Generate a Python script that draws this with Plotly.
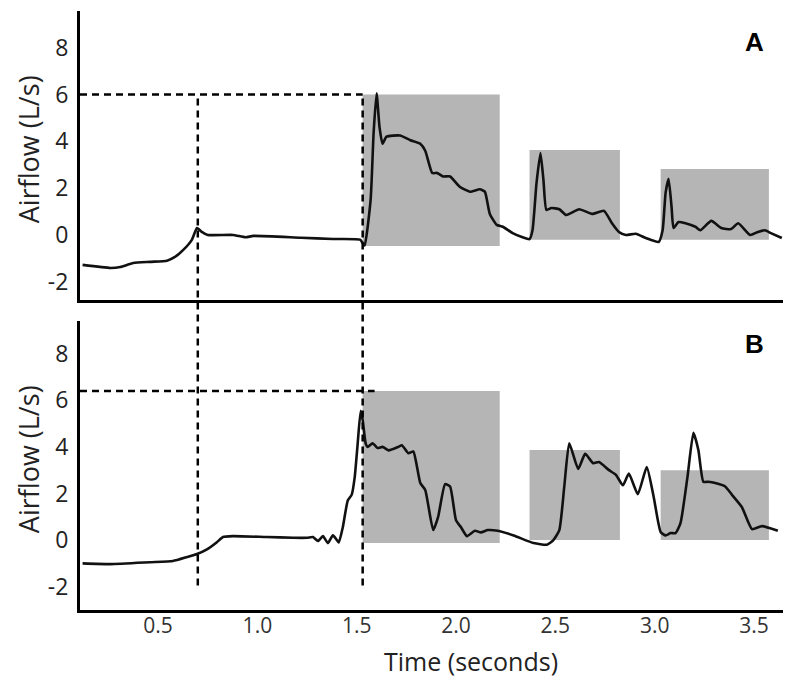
import plotly.graph_objects as go
from plotly.subplots import make_subplots

# panel A trace
tempo_a = [0.12, 0.26, 0.31, 0.375, 0.46, 0.545, 0.585, 0.627, 0.67, 0.696, 0.72, 0.75,
           0.877, 0.94, 0.98, 1.22, 1.38, 1.517, 1.53, 1.54, 1.57, 1.585, 1.60, 1.615,
           1.63, 1.65, 1.718, 1.77, 1.82, 1.845, 1.88, 1.905, 1.935, 1.97, 2.02, 2.07,
           2.12, 2.145, 2.17, 2.205, 2.235, 2.285, 2.335, 2.37, 2.385, 2.405, 2.425,
           2.44, 2.455, 2.48, 2.52, 2.555, 2.62, 2.685, 2.745, 2.785, 2.82, 2.855,
           2.905, 2.955, 3.02, 3.04, 3.055, 3.07, 3.085, 3.095, 3.12, 3.155, 3.205,
           3.23, 3.285, 3.335, 3.385, 3.42, 3.48, 3.52, 3.555, 3.585, 3.64]
fluxo_a = [-1.28, -1.41, -1.37, -1.2, -1.15, -1.1, -0.94, -0.64, -0.21, 0.3, 0.13, 0.0,
           0.0, -0.1, -0.04, -0.12, -0.17, -0.2, -0.35, -0.45, 1.5, 4.35, 6.05, 4.6,
           3.9, 4.2, 4.25, 4.05, 3.9, 3.6, 2.65, 2.65, 2.5, 2.5, 2.05, 1.85,
           1.95, 1.85, 0.9, 0.43, 0.35, 0.08, -0.1, -0.18, 0.2, 2.2, 3.5,
           2.35, 1.07, 1.15, 1.1, 0.85, 1.1, 0.9, 1.03, 0.5, 0.13, 0.0,
           0.05, -0.13, -0.3, 0.2, 1.8, 2.4, 1.2, 0.3, 0.55, 0.5, 0.35,
           0.2, 0.6, 0.3, 0.25, 0.5, 0.0, 0.13, 0.2, 0.08, -0.13]

# panel B trace
tempo_b = [0.12, 0.26, 0.46, 0.575, 0.646, 0.696, 0.746, 0.796, 0.827, 0.877, 1.048,
           1.18, 1.25, 1.28, 1.305, 1.33, 1.355, 1.38, 1.40, 1.41, 1.43, 1.455, 1.475,
           1.49, 1.505, 1.52, 1.53, 1.545, 1.555, 1.58, 1.605, 1.63, 1.66, 1.71, 1.727,
           1.76, 1.785, 1.82, 1.845, 1.885, 1.91, 1.945, 1.97, 2.0, 2.025, 2.055, 2.095,
           2.125, 2.16, 2.21, 2.29, 2.39, 2.457, 2.49, 2.52, 2.545, 2.57, 2.615, 2.65,
           2.69, 2.72, 2.77, 2.805, 2.84, 2.87, 2.915, 2.96, 2.995, 3.03, 3.055, 3.08,
           3.105, 3.13, 3.165, 3.195, 3.22, 3.245, 3.27, 3.305, 3.355, 3.39, 3.44, 3.49,
           3.54, 3.62]
fluxo_b = [-1.0, -1.03, -0.95, -0.9, -0.73, -0.6, -0.4, -0.09, 0.13, 0.17, 0.13,
           0.1, 0.1, 0.13, -0.04, 0.17, -0.13, 0.2, 0.0, -0.1, 0.55, 1.7, 1.95,
           2.7, 4.15, 5.55, 5.15, 4.15, 4.0, 4.15, 3.95, 4.0, 3.85, 4.0, 4.07,
           3.73, 3.8, 2.45, 2.15, 0.43, 1.0, 2.4, 2.3, 0.85, 0.55, 0.17, 0.4,
           0.33, 0.43, 0.4, 0.2, -0.13, -0.2, 0.0, 0.43, 2.3, 4.15, 3.05, 3.7,
           3.3, 3.35, 3.0, 2.8, 2.35, 2.85, 1.97, 3.13, 1.85, 0.35, 0.2, 0.3,
           0.3, 0.73, 2.7, 4.6, 3.86, 2.5, 2.5, 2.45, 2.3, 1.93, 1.4, 0.47,
           0.6, 0.4]

# caixas cinzas
caixa_x0 = [1.53, 2.37, 3.03]
caixa_x1 = [2.22, 2.825, 3.575]
caixa_topo_a = [6.0, 3.63, 2.82]
caixa_base_a = [-0.47, -0.2, -0.2]
caixa_topo_b = [6.4, 3.86, 3.0]
caixa_base_b = [-0.13, 0.0, 0.0]

# linhas tracejadas
marcas_x = [0.7, 1.53]
pico_a = 6.0
pico_b = 6.4
fim_pico_b = 1.59
base_tracejado = -1.95

ticks_y = [-2, 0, 2, 4, 6, 8]
rotulos_y = ["-2", "0", "2", "4", "6", "8"]
ticks_x = [0.5, 1.0, 1.5, 2.0, 2.5, 3.0, 3.5]
rotulos_x = ["0.5", "1.0", "1.5", "2.0", "2.5", "3.0", "3.5"]
faixa_x = [0.107, 3.646]
faixa_a = [-2.78, 9.57]
faixa_b = [-3.0, 9.4]
dom_a = [0.5175, 1.0]
dom_b = [0.0, 0.4825]

fig = make_subplots(rows=2, cols=1, shared_xaxes=True)

fig.add_trace(go.Scatter(x=tempo_a, y=fluxo_a, mode="lines",
                         line=dict(color="#111", width=2.6, shape="spline", smoothing=0.5)),
              row=1, col=1)
fig.add_trace(go.Scatter(x=tempo_b, y=fluxo_b, mode="lines",
                         line=dict(color="#111", width=2.6, shape="spline", smoothing=0.5)),
              row=2, col=1)

for i in range(3):
    fig.add_shape(type="rect", xref="x", yref="y", x0=caixa_x0[i], x1=caixa_x1[i],
                  y0=caixa_base_a[i], y1=caixa_topo_a[i], fillcolor="#b5b5b5",
                  line_width=0, layer="below")
    fig.add_shape(type="rect", xref="x2", yref="y2", x0=caixa_x0[i], x1=caixa_x1[i],
                  y0=caixa_base_b[i], y1=caixa_topo_b[i], fillcolor="#b5b5b5",
                  line_width=0, layer="below")

tracejado = dict(color="black", width=2.5, dash="7px,5px")


def paper_y(v, faixa, dom):
    return dom[0] + (v - faixa[0]) / (faixa[1] - faixa[0]) * (dom[1] - dom[0])


fig.add_shape(type="line", xref="x", yref="y", x0=faixa_x[0], x1=marcas_x[1],
              y0=pico_a, y1=pico_a, line=tracejado)
fig.add_shape(type="line", xref="x2", yref="y2", x0=faixa_x[0], x1=fim_pico_b,
              y0=pico_b, y1=pico_b, line=tracejado)
for mx in marcas_x:
    fig.add_shape(type="line", xref="x", yref="paper", x0=mx, x1=mx,
                  y0=paper_y(base_tracejado, faixa_b, dom_b),
                  y1=paper_y(pico_a, faixa_a, dom_a), line=tracejado)

fonte_tick = dict(family="Open Sans", size=23, color="#222")
for r, faixa, dom in [(1, faixa_a, dom_a), (2, faixa_b, dom_b)]:
    fig.update_yaxes(row=r, col=1, range=faixa, domain=dom, tickvals=ticks_y,
                     ticktext=rotulos_y,
                     showgrid=False, zeroline=False, showline=True, linewidth=3,
                     linecolor="black", ticks="", tickfont=fonte_tick,
                     ticklabelstandoff=4, automargin=False)
    fig.update_xaxes(row=r, col=1, range=faixa_x, tickvals=ticks_x, ticktext=rotulos_x,
                     showgrid=False, zeroline=False, showline=True, linewidth=3,
                     linecolor="black", ticks="", automargin=False,
                     tickfont=dict(family="Open Sans", size=21, color="#333"),
                     ticklabelstandoff=-5)

# titulos dos eixos
fonte_titulo = dict(family="Open Sans", size=27, color="#222")
for dom in [dom_a, dom_b]:
    fig.add_annotation(text="Airflow (L/s)", textangle=-90, x=-0.073,
                       y=(dom[0] + dom[1]) / 2 + 0.01, xref="paper", yref="paper",
                       xanchor="center", yanchor="middle",
                       showarrow=False, font=fonte_titulo)
fig.add_annotation(text="Time (seconds)", x=0.556, y=-0.085, xref="paper", yref="paper",
                   showarrow=False, xanchor="center", yanchor="middle",
                   font=dict(family="Open Sans", size=25, color="#222"))

fig.add_annotation(text="A", x=3.5, y=8.25, xref="x", yref="y", showarrow=False,
                   font=dict(family="Liberation Sans", size=26, color="black", weight="bold"))
fig.add_annotation(text="B", x=3.5, y=8.4, xref="x2", yref="y2", showarrow=False,
                   font=dict(family="Liberation Sans", size=26, color="black", weight="bold"))

# a pagina tem 8px de margem, por isso o tamanho menor
fig.update_layout(width=792, height=672, showlegend=False,
                  plot_bgcolor="white", paper_bgcolor="white",
                  margin=dict(l=72, r=17, t=3, b=70))

fig.write_html("out.html")
